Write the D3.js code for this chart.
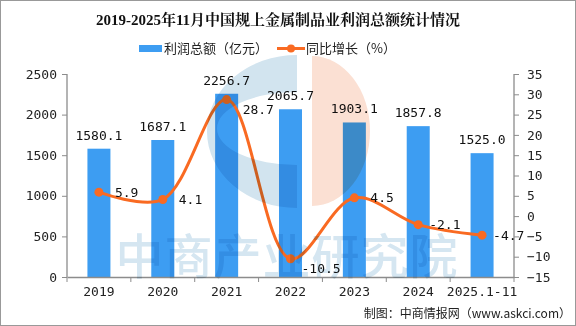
<!DOCTYPE html>
<html><head><meta charset="utf-8">
<script src="https://cdn.jsdelivr.net/npm/d3@7"></script>
<style>body{margin:0;background:#fff}svg{display:block}</style>
</head><body>
<script>
const categories = ["2019","2020","2021","2022","2023","2024","2025.1-11"];
const profit = [1580.1,1687.1,2256.7,2065.7,1903.1,1857.8,1525.0];
const growth = [5.9,4.1,28.7,-10.5,4.5,-2.1,-4.7];
const leftTicks = [0,500,1000,1500,2000,2500];
const rightTicks = [-15,-10,-5,0,5,10,15,20,25,30,35];
const title = "2019-2025年11月中国规上金属制品业利润总额统计情况";
const legendBar = "利润总额（亿元）";
const legendLine = "同比增长（%）";
const source = "制图：中商情报网（www.askci.com）";
const watermark = "中商产业研究院";

const W=576,H=326;
const m={l:67,r:62,t:74,b:49};
const svg=d3.select("body").append("svg").attr("width",W).attr("height",H);
svg.append("rect").attr("x",0.5).attr("y",0.5).attr("width",W-1).attr("height",H-1).attr("fill","#fff").attr("stroke","#999");

const xb=d3.scaleBand().domain(categories).range([m.l,W-m.r]);
const yL=d3.scaleLinear().domain([0,2500]).range([H-m.b,m.t]);
const yR=d3.scaleLinear().domain([-15,35]).range([H-m.b,m.t]);
const mono="'DejaVu Sans Mono','Liberation Mono',monospace";

svg.append("text").attr("x",278).attr("y",25).attr("text-anchor","middle")
 .attr("font-family","'Liberation Serif','Noto Serif CJK SC','Noto Sans CJK SC',serif").attr("font-weight","bold").attr("font-size",15).attr("fill","#111").text(title);

// legend
svg.append("rect").attr("x",139).attr("y",45).attr("width",23).attr("height",7).attr("fill","#3d9df2");
svg.append("text").attr("x",164).attr("y",53).attr("font-family","'Noto Sans CJK SC',sans-serif").attr("font-size",13).attr("fill","#222").text(legendBar);
svg.append("line").attr("x1",277).attr("x2",305).attr("y1",48.5).attr("y2",48.5).attr("stroke","#f96a22").attr("stroke-width",3);
svg.append("circle").attr("cx",291).attr("cy",48.5).attr("r",4).attr("fill","#f96a22");
svg.append("text").attr("x",306).attr("y",53).attr("font-family","'Noto Sans CJK SC',sans-serif").attr("font-size",13).attr("fill","#222").text(legendLine);

// bars
svg.append("g").selectAll("rect").data(profit).join("rect")
 .attr("x",(d,i)=>xb(categories[i])+xb.bandwidth()/2-11.5).attr("width",23)
 .attr("y",d=>yL(d)).attr("height",d=>yL(0)-yL(d)).attr("fill","#3d9df2");

// axes
const axC="#8c8c8c";
const gl=svg.append("g").attr("transform",`translate(${m.l},0)`).call(d3.axisLeft(yL).tickValues(leftTicks).tickFormat(d3.format("d")).tickSize(5).tickPadding(5));
const gr=svg.append("g").attr("transform",`translate(${W-m.r},0)`).call(d3.axisRight(yR).tickValues(rightTicks).tickFormat(d3.format("d")).tickSize(5).tickPadding(8));
const gx=svg.append("g").attr("transform",`translate(0,${H-m.b})`).call(d3.axisBottom(xb).tickSize(0).tickPadding(10));
gx.selectAll(".tick line").remove();
const bounds=d3.range(categories.length+1).map(i=>m.l+i*xb.step());
gx.selectAll(".bnd").data(bounds).join("line").attr("x1",d=>d).attr("x2",d=>d).attr("y1",0).attr("y2",5).attr("stroke",axC);
[gl,gr,gx].forEach(g=>{g.select(".domain").attr("stroke",axC).attr("stroke-width",1.3);g.selectAll(".tick line").attr("stroke",axC);
 g.selectAll("text").attr("font-family",mono).attr("font-size",13).attr("fill","#222");});
gl.select(".domain").attr("d",`M0,${m.t}V${H-m.b}`);
gr.select(".domain").attr("d",`M0,${m.t}V${H-m.b}`);

// bar labels
svg.append("g").selectAll("text").data(profit).join("text")
 .attr("x",(d,i)=>xb(categories[i])+xb.bandwidth()/2).attr("y",d=>yL(d)-9)
 .attr("text-anchor","middle").attr("font-family",mono).attr("font-size",13).attr("fill","#111").text(d=>d.toFixed(1));

// line
const cx=i=>xb(categories[i])+xb.bandwidth()/2;
const line=d3.line().x((d,i)=>cx(i)).y(d=>yR(d)).curve(d3.curveCatmullRom.alpha(0.5));
svg.append("path").datum(growth).attr("d",line).attr("fill","none").attr("stroke","#f96a22").attr("stroke-width",3);
svg.append("g").selectAll("circle").data(growth).join("circle").attr("cx",(d,i)=>cx(i)).attr("cy",d=>yR(d)).attr("r",4.5).attr("fill","#f96a22");
svg.append("g").selectAll("text").data(growth).join("text")
 .attr("x",(d,i)=>cx(i)+(d<0?11:16)).attr("y",d=>yR(d)+4.5+(Math.abs(d)>10?10:0))
 .attr("font-family",mono).attr("font-size",13).attr("fill","#111").text(d=>d.toFixed(1));

// watermark (multiply overlay)
const wm=svg.append("g").attr("pointer-events","none").style("mix-blend-mode","multiply");
wm.append("path").attr("fill-rule","evenodd").attr("fill","#d2e4ef")
 .attr("d","M297,55 A90,76.5 0 0 0 297,208 Z M297,92 A80,36.5 0 0 0 297,165 Z");
wm.append("path").attr("fill","#fbe0d3").attr("d","M312,56 A58,75 0 0 1 312,206 Z");
wm.append("text").attr("x",287).attr("y",274).attr("text-anchor","middle").attr("font-family","'Noto Sans CJK SC',sans-serif").attr("font-weight","500").attr("font-size",48).attr("fill","#d5e6f1").attr("letter-spacing",1).text(watermark);

svg.append("text").attr("x",571).attr("y",318).attr("text-anchor","end").attr("font-family","'Noto Sans CJK SC',sans-serif").attr("font-size",12).attr("fill","#222").text(source);
</script>
</body></html>
